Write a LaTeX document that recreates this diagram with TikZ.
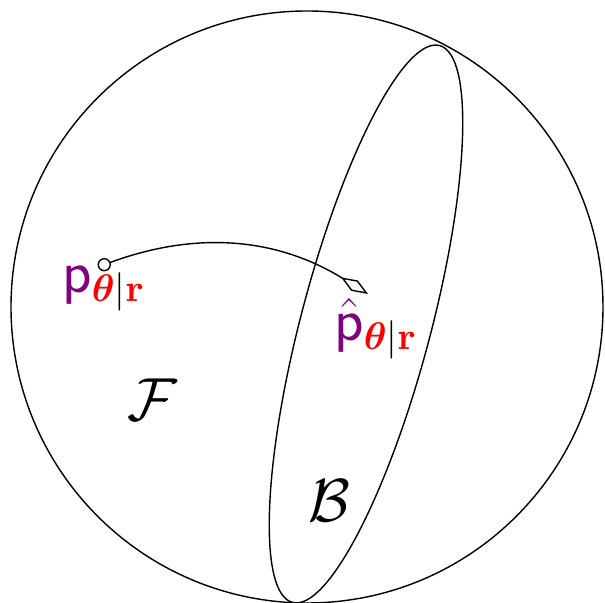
\documentclass[tikz,border=0pt]{standalone}
\usepackage{amsmath,bm}
\usetikzlibrary{arrows.meta}
\begin{document}
\begin{tikzpicture}[x=0.01cm, y=0.01cm, font=\fontsize{16}{19}\selectfont]
		\useasboundingbox (0,0) rectangle (605,603);
		\def\sub{{\color{red}\bm{\theta}}|{\color{red}\mathbf{r}}}
		\draw (307,296) circle (296);
		\draw[rotate around={75.2:(366,279)}] (366,279) ellipse (288 and 65);
		\coordinate (pstart) at (98,336);
		\coordinate (pend) at (368,309);
		\draw[{Circle[open,length=3.8pt]}-{Diamond[open,length=9pt,width=3.5pt]}] (pstart) to[bend left=26] (pend);
		\node (pl) at (104,314) {$\textcolor{violet}{\mathsf{p}}_{\sub}$};
		\node (phl) at (376,274) {$\textcolor{violet}{\hat{\mathsf{p}}}_{\sub}$};
		\node (fam) at (152,203) {$\mathcal{F}$};
		\node (bnd) at (329,102) {$\mathcal{B}$};
	\end{tikzpicture}
\end{document}
